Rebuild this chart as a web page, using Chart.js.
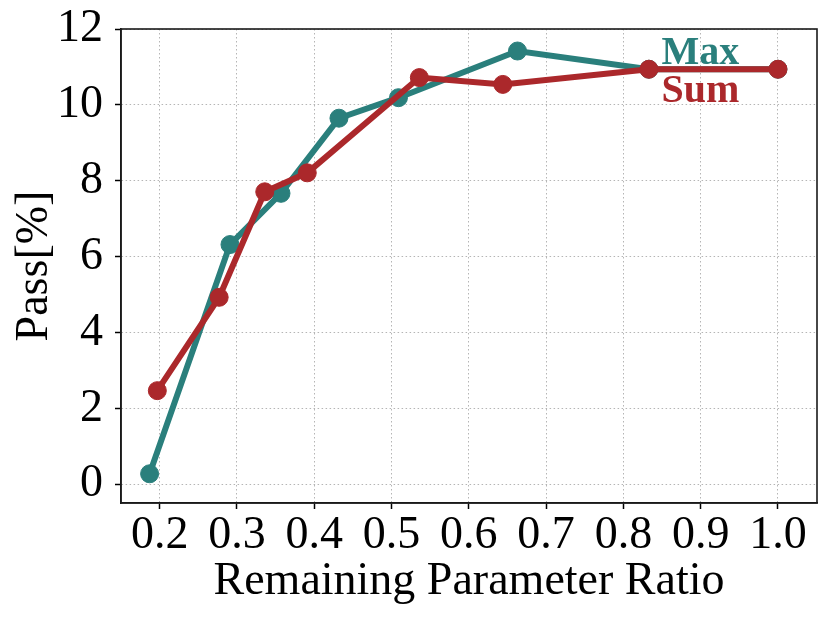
<!DOCTYPE html>
<html>
<head>
<meta charset="utf-8">
<script src="https://cdn.jsdelivr.net/npm/chart.js@4.4.1/dist/chart.umd.min.js"></script>
<style>
  html, body { margin: 0; padding: 0; background: #ffffff; }
  #wrap { width: 830px; height: 620px; position: relative; }
</style>
</head>
<body>
<div id="wrap"><canvas id="c" width="830" height="620"></canvas></div>
<script>
// ---- data ----
const maxRatio = [0.187, 0.291, 0.357, 0.432, 0.509, 0.663, 0.833, 1.0];
const maxPass  = [0.28, 6.32, 7.67, 9.65, 10.19, 11.42, 10.94, 10.94];
const sumRatio = [0.197, 0.277, 0.336, 0.391, 0.536, 0.644, 0.833, 1.0];
const sumPass  = [2.47, 4.93, 7.71, 8.21, 10.72, 10.54, 10.94, 10.94];
const xTicks = [0.2, 0.3, 0.4, 0.5, 0.6, 0.7, 0.8, 0.9, 1.0];
const yTicks = [0, 2, 4, 6, 8, 10, 12];
const seriesNames = ['Max', 'Sum'];
const xTitle = 'Remaining Parameter Ratio';
const yTitle = 'Pass[%]';

const TEAL = '#2a7f7c';
const RED = '#ab282b';
const FONT = '"Liberation Serif", "Times New Roman", serif';

function pts(xs, ys) { return xs.map((x, i) => ({ x: x, y: ys[i] })); }

const framePlugin = {
  id: 'frame',
  afterDraw(chart) {
    const { ctx, chartArea: a } = chart;
    ctx.save();
    ctx.strokeStyle = '#1a1a1a';
    ctx.lineWidth = 1.6;
    ctx.strokeRect(a.left, a.top, a.right - a.left, a.bottom - a.top);
    ctx.restore();
  }
};

const labelPlugin = {
  id: 'seriesLabels',
  afterDatasetsDraw(chart) {
    const { ctx } = chart;
    const xs = chart.scales.x, ys = chart.scales.y;
    ctx.save();
    ctx.font = 'bold 40px ' + FONT;
    ctx.textAlign = 'center';
    ctx.textBaseline = 'alphabetic';
    const cx = xs.getPixelForValue(0.8995);
    ctx.fillStyle = TEAL;
    ctx.fillText(seriesNames[0], cx, ys.getPixelForValue(11.08));
    ctx.fillStyle = RED;
    ctx.fillText(seriesNames[1], cx, ys.getPixelForValue(10.08));
    ctx.restore();
  }
};

new Chart(document.getElementById('c'), {
  type: 'line',
  data: {
    datasets: [
      {
        label: seriesNames[0],
        data: pts(maxRatio, maxPass),
        borderColor: TEAL,
        backgroundColor: TEAL,
        pointBackgroundColor: TEAL,
        pointBorderColor: TEAL,
        borderWidth: 6,
        pointRadius: 9,
        pointBorderWidth: 1,
        tension: 0,
        order: 2
      },
      {
        label: seriesNames[1],
        data: pts(sumRatio, sumPass),
        borderColor: RED,
        backgroundColor: RED,
        pointBackgroundColor: RED,
        pointBorderColor: RED,
        borderWidth: 6,
        pointRadius: 9,
        pointBorderWidth: 1,
        tension: 0,
        order: 1
      }
    ]
  },
  options: {
    responsive: false,
    animation: false,
    devicePixelRatio: 1,
    layout: { padding: { top: 29, right: 13, left: 0, bottom: 0 } },
    plugins: { legend: { display: false }, tooltip: { enabled: false } },
    scales: {
      x: {
        type: 'linear',
        min: 0.15,
        max: 1.0505,
        afterBuildTicks(s) { s.ticks = xTicks.map(v => ({ value: v })); },
        afterFit(s) { s.height = 117; s.paddingLeft = 0; s.paddingRight = 0; },
        ticks: {
          color: '#000',
          font: { family: FONT, size: 46 },
          padding: -1,
          maxRotation: 0,
          autoSkip: false,
          callback: v => v.toFixed(1)
        },
        grid: {
          color: '#b5b5b5',
          lineWidth: 1,
          tickLength: 6,
          tickColor: '#000',
          tickWidth: 1.5
        },
        border: { display: true, color: '#1a1a1a', width: 1.6, dash: [1.5, 2.5] },
        title: {
          display: true,
          text: xTitle,
          color: '#000',
          font: { family: FONT, size: 46 },
          padding: { top: 0, bottom: 10 }
        }
      },
      y: {
        type: 'linear',
        min: -0.49,
        max: 12,
        afterBuildTicks(s) { s.ticks = yTicks.map(v => ({ value: v })); },
        afterFit(s) { s.width = 121; s.paddingTop = 0; s.paddingBottom = 0; },
        ticks: {
          color: '#000',
          font: { family: FONT, size: 46 },
          padding: 12,
          autoSkip: false,
          callback: v => String(v)
        },
        grid: {
          color: '#b5b5b5',
          lineWidth: 1,
          tickLength: 6,
          tickColor: '#000',
          tickWidth: 1.5
        },
        border: { display: true, color: '#1a1a1a', width: 1.6, dash: [1.5, 2.5] },
        title: {
          display: true,
          text: yTitle,
          color: '#000',
          font: { family: FONT, size: 46 },
          padding: { top: 7, bottom: 0 }
        }
      }
    }
  },
  plugins: [framePlugin, labelPlugin]
});
</script>
</body>
</html>
